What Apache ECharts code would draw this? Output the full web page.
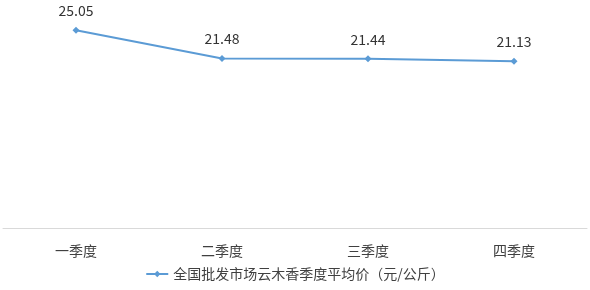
<!DOCTYPE html>
<html>
<head>
<meta charset="UTF-8">
<title>云木香季度平均价</title>
<script src="https://cdn.jsdelivr.net/npm/echarts@6/dist/echarts.min.js"></script>
<style>
html, body { margin: 0; padding: 0; background: #fff; }
#main { width: 590px; height: 290px; }
</style>
</head>
<body>
<div id="main"></div>
<script>
// 季度
var quarters = ['一季度', '二季度', '三季度', '四季度'];
// 全国批发市场云木香季度平均价（元/公斤）
var avgPrice = [25.05, 21.48, 21.44, 21.13];
var seriesName = '全国批发市场云木香季度平均价（元/公斤）';

var chart = echarts.init(document.getElementById('main'));
chart.setOption({
  animation: false,
  textStyle: { fontFamily: 'Noto Sans CJK SC' },
  grid: { left: 3, right: 3, top: 7, bottom: 62 },
  legend: {
    bottom: 4,
    left: 'center',
    itemWidth: 22,
    itemHeight: 8,
    itemGap: 5,
    textStyle: { fontSize: 14, color: '#404040' },
    data: [seriesName]
  },
  xAxis: {
    type: 'category',
    data: quarters,
    axisLine: { lineStyle: { color: '#d9d9d9' } },
    axisTick: { show: false },
    axisLabel: { fontSize: 14, color: '#404040', margin: 16 }
  },
  yAxis: {
    type: 'value',
    min: 0,
    max: 28,
    show: false,
    splitLine: { show: false }
  },
  series: [{
    name: seriesName,
    type: 'line',
    data: avgPrice,
    symbol: 'diamond',
    symbolSize: 7,
    itemStyle: { color: '#5b9bd5' },
    lineStyle: { width: 2, color: '#5b9bd5' },
    label: {
      show: true,
      position: 'top',
      distance: 9,
      fontSize: 14,
      color: '#333'
    }
  }]
});
</script>
</body>
</html>
